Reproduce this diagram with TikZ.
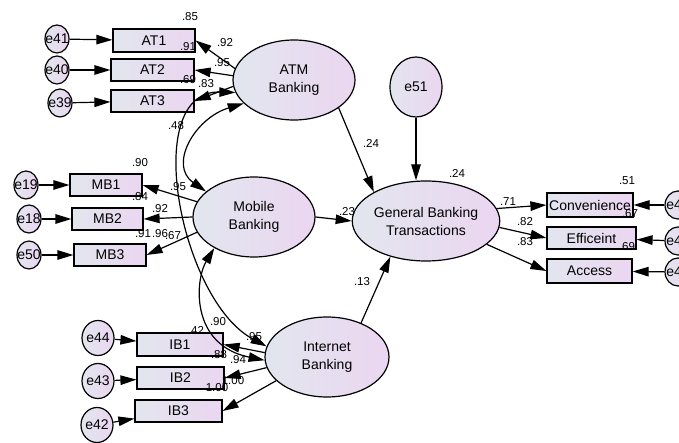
\documentclass[tikz,border=0pt]{standalone}
\usepackage{fontspec}
\setmainfont{Liberation Sans}
\usetikzlibrary{shapes.geometric,arrows.meta}
\definecolor{shadeleft}{RGB}{226,230,238}
\definecolor{shaderight}{RGB}{235,214,241}
\tikzset{
  obsbox/.style={draw, line width=1.2pt, rectangle, left color=shadeleft, right color=shaderight,
    minimum height=23pt, inner sep=0pt, font=\fontsize{14}{15}\selectfont},
  latent/.style={draw, line width=1.2pt, ellipse, left color=shadeleft, right color=shaderight,
    minimum width=122pt, minimum height=80pt, inner sep=0pt, align=center,
    font=\fontsize{14}{18}\selectfont},
  errc/.style={draw, line width=1.2pt, ellipse, left color=shadeleft, right color=shaderight,
    minimum width=24pt, minimum height=28pt, inner sep=0pt,
    label={[inner sep=0pt, font=\fontsize{14}{15}\selectfont]center:#1}},
  coef/.style={inner sep=0pt, font=\fontsize{11.5}{12}\selectfont},
  arr/.style={line width=1.2pt, -{Triangle[length=16pt,width=9.5pt]}},
  corr/.style={line width=1.2pt, {Triangle[length=16pt,width=9.5pt]}-{Triangle[length=16pt,width=9.5pt]}},
}

\begin{document}
\begin{tikzpicture}[x=1pt,y=-1pt]
\fill [white] (0,0) rectangle (679,443);
\useasboundingbox (0,0) rectangle (679,443);

% latent factors
\node [latent] (atm) at (294,80) {ATM\\Banking};
\node [latent] (mob) at (254,217) {Mobile\\Banking};
\node [latent, minimum width=124pt] (inb) at (327,357) {Internet\\Banking};
\node [latent, minimum width=124pt] (gbt) at (426,221) {General Banking\\Transactions};
\node [errc=e51, minimum width=52pt, minimum height=60pt] (e51) at (416,87) {};

% ATM items
\node [obsbox, minimum width=82pt] (at1) at (154,40.5) {AT1};
\node [obsbox, minimum width=83pt, minimum height=22pt] (at2) at (152.5,70) {AT2};
\node [obsbox, minimum width=83pt, minimum height=22pt] (at3) at (152.5,101) {AT3};
\node [errc=e41] (e41) at (57,39) {};
\node [errc=e40] (e40) at (57,70) {};
\node [errc=e39] (e39) at (60,103) {};

% mobile items
\node [obsbox, minimum width=72pt, minimum height=22pt] (mb1) at (106,185) {MB1};
\node [obsbox, minimum width=71pt, minimum height=22pt] (mb2) at (107.5,219) {MB2};
\node [obsbox, minimum width=72pt, minimum height=22pt] (mb3) at (110,255) {MB3};
\node [errc=e19] (e19) at (26,185) {};
\node [errc=e18] (e18) at (29,219) {};
\node [errc=e50] (e50) at (29,255) {};

% internet items
\node [obsbox, minimum width=86pt] (ib1) at (180,344.5) {IB1};
\node [obsbox, minimum width=87pt, minimum height=22pt] (ib2) at (180.5,378) {IB2};
\node [obsbox, minimum width=87pt, minimum height=22pt] (ib3) at (178.5,411) {IB3};
\node [errc=e44, minimum width=32pt, minimum height=35pt] (e44) at (98,338) {};
\node [errc=e43, minimum width=32pt, minimum height=35pt] (e43) at (98,381) {};
\node [errc=e42, minimum width=32pt, minimum height=35pt] (e42) at (97,425) {};

% outcome items
\node [obsbox, minimum width=86pt, minimum height=24pt] (conv) at (590,205) {Convenience};
\node [obsbox, minimum width=89pt, minimum height=22pt] (eff) at (591.5,238) {Efficeint};
\node [obsbox, minimum width=85pt, minimum height=24pt] (acc) at (589.5,271) {Access};
\node [errc=e45, minimum width=26pt] (e45) at (678,205) {};
\node [errc=e46, minimum width=26pt] (e46) at (678,241) {};
\node [errc=e47, minimum width=26pt] (e47) at (678,272) {};

% error terms
\draw [arr] (e41) -- (at1);
\draw [arr] (e40) -- (at2);
\draw [arr] (e39) -- (at3);
\draw [arr] (e19) -- (mb1);
\draw [arr] (e18) -- (mb2);
\draw [arr] (e50) -- (mb3);
\draw [arr] (e44) -- (ib1);
\draw [arr] (e43) -- (ib2);
\draw [arr] (e42) -- (ib3);
\draw [arr] (e45) -- (conv);
\draw [arr] (e46) -- (eff);
\draw [arr] (e47) -- (acc);
\draw [arr] (e51) -- (e51 |- gbt.north);

% loadings
\draw [arr] (atm.169) -- (at1.east);
\draw [arr] (atm.176) -- (at2.east);
\draw [arr] (atm.186) -- (at3.east);
\draw [arr] (mob.165) -- (mb1.east);
\draw [arr] (mob.west) -- (mb2.east);
\draw [arr] (mob.195) -- (mb3.east);
\draw [arr] (inb.176) -- (ib1.east);
\draw [arr] (inb.190) -- (ib2.east);
\draw [arr] (inb.205) -- (ib3.east);
\draw [arr] (gbt.10) -- (conv.west);
\draw [arr] (gbt.355) -- (eff.west);
\draw [arr] (gbt.339) -- (acc.west);

% structural paths
\draw [arr] (atm.328) -- (gbt.151);
\draw [arr] (mob.east) -- (gbt.west);
\draw [arr] (inb.45) -- (gbt.225);

% covariances
\draw [corr] (atm.192) .. controls (140,90) and (180,300) .. (inb.170);
\draw [corr] (atm.205) .. controls (195,118) and (168,165) .. (mob.152);
\draw [corr] (mob.218) .. controls (195,280) and (190,345) .. (inb.183);

% estimates
\node [coef] (r1) at (190,17) {.85};
\node [coef] (r2) at (225,43) {.92};
\node [coef] (r3) at (188,47) {.91};
\node [coef] (r4) at (222,63) {.95};
\node [coef] (r5) at (188,80) {.69};
\node [coef] (r6) at (206,84) {.83};
\node [coef] (r7) at (176,126) {.48};
\node [coef] (r8) at (140,163) {.90};
\node [coef] (r9) at (178,187) {.95};
\node [coef] (r10) at (140,197) {.84};
\node [coef] (r11) at (160,209) {.92};
\node [coef] (r12) at (143,234) {.91};
\node [coef] (r13) at (160,234) {.96};
\node [coef] (r14) at (173,236) {.67};
\node [coef] (r15) at (371,143) {.24};
\node [coef] (r16) at (457,173) {.24};
\node [coef] (r17) at (347,212) {.23};
\node [coef] (r18) at (362,282) {.13};
\node [coef] (r19) at (508,202) {.71};
\node [coef] (r20) at (525,222) {.82};
\node [coef] (r21) at (525,242) {.83};
\node [coef] (r22) at (627,181) {.51};
\node [coef] (r23) at (630,214) {.67};
\node [coef] (r24) at (627,247) {.69};
\node [coef] (r25) at (196,330) {.42};
\node [coef] (r26) at (218,322) {.90};
\node [coef] (r27) at (254,337) {.95};
\node [coef] (r28) at (219,355) {.88};
\node [coef] (r29) at (238,360) {.94};
\node [coef] (r30) at (233,381) {1.00};
\node [coef] (r31) at (217,388) {1.00};
\end{tikzpicture}
\end{document}
